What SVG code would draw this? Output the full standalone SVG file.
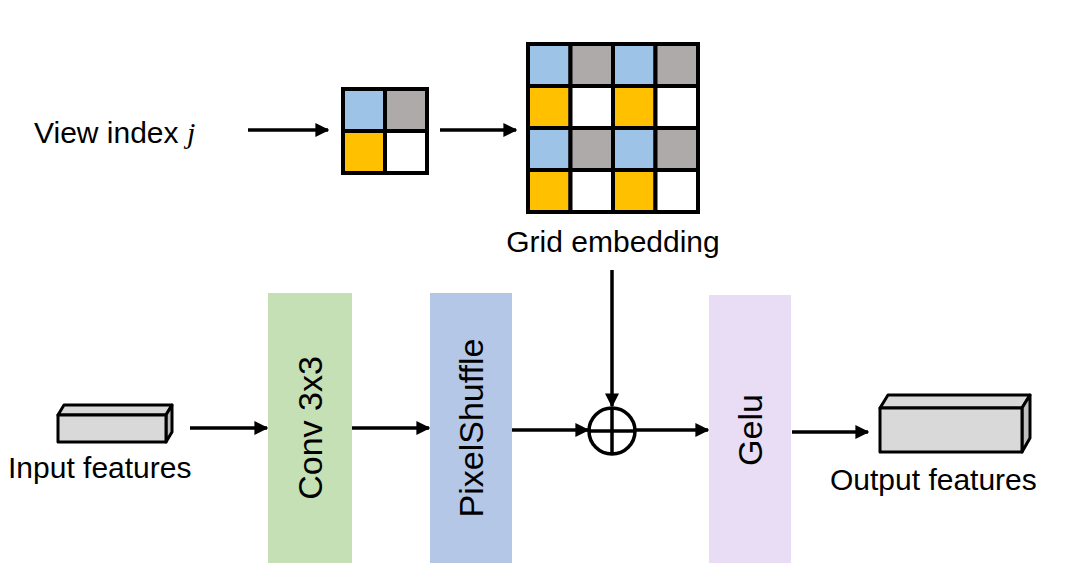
<svg xmlns="http://www.w3.org/2000/svg" width="1080" height="580" viewBox="0 0 1080 580">
<style>
text{font-family:"Liberation Sans",Arial,sans-serif;fill:#000}
.lbl{font-size:30px}
.vl{font-size:34px}
.ln{stroke:#000;stroke-width:3.5;fill:none}
.c{stroke:#000;stroke-width:4}
.b{fill:#9dc3e6}.g{fill:#aeaaaa}.y{fill:#ffc000}.w{fill:#fff}
.cube{stroke:#000;stroke-width:3;stroke-linejoin:round}
</style>
<defs>
<marker id="ah" viewBox="0 0 10 10" refX="9" refY="5" markerWidth="4" markerHeight="4" orient="auto" markerUnits="strokeWidth"><path d="M0,0 L10,5 L0,10 z" fill="#000"/></marker>
</defs>
<g id="view-index"><text class="lbl" x="34" y="143">View index <tspan font-family="Liberation Serif" font-style="italic">j</tspan></text></g>
<g id="small-grid">
<rect class="c b" x="343" y="89" width="42" height="42"/><rect class="c g" x="385" y="89" width="42" height="42"/>
<rect class="c y" x="343" y="131" width="42" height="42"/><rect class="c w" x="385" y="131" width="42" height="42"/>
</g>
<g id="grid-embedding">
<rect class="c b" x="528" y="44" width="42.5" height="42"/><rect class="c g" x="570.5" y="44" width="42.5" height="42"/><rect class="c b" x="613" y="44" width="42.5" height="42"/><rect class="c g" x="655.5" y="44" width="42.5" height="42"/>
<rect class="c y" x="528" y="86" width="42.5" height="42"/><rect class="c w" x="570.5" y="86" width="42.5" height="42"/><rect class="c y" x="613" y="86" width="42.5" height="42"/><rect class="c w" x="655.5" y="86" width="42.5" height="42"/>
<rect class="c b" x="528" y="128" width="42.5" height="42"/><rect class="c g" x="570.5" y="128" width="42.5" height="42"/><rect class="c b" x="613" y="128" width="42.5" height="42"/><rect class="c g" x="655.5" y="128" width="42.5" height="42"/>
<rect class="c y" x="528" y="170" width="42.5" height="42"/><rect class="c w" x="570.5" y="170" width="42.5" height="42"/><rect class="c y" x="613" y="170" width="42.5" height="42"/><rect class="c w" x="655.5" y="170" width="42.5" height="42"/>
<text class="lbl" x="613" y="252" text-anchor="middle">Grid embedding</text>
</g>
<g id="input-features">
<path class="cube" fill="#d9d9d9" d="M58,415 L64,405 L172,405 L166,415 Z"/>
<path class="cube" fill="#bfbfbf" d="M166,415 L172,405 L172,432 L166,442 Z"/>
<rect class="cube" fill="#d9d9d9" x="58" y="415" width="108" height="27"/>
<text class="lbl" x="8" y="478">Input features</text>
</g>
<g id="conv"><rect x="268" y="293" width="84" height="270" fill="#c5e0b4"/><text class="vl" transform="translate(322,428) rotate(-90)" text-anchor="middle">Conv 3x3</text></g>
<g id="pixelshuffle"><rect x="430" y="293" width="82" height="270" fill="#b4c7e7"/><text class="vl" transform="translate(483,428) rotate(-90)" text-anchor="middle">PixelShuffle</text></g>
<g id="add"><circle cx="612" cy="431" r="23" fill="#fff" stroke="#000" stroke-width="3.5"/><path class="ln" d="M589,431 H635 M612,408 V454"/></g>
<g id="gelu"><rect x="709" y="295" width="82" height="268" fill="#e8ddf4"/><text class="vl" transform="translate(762,430) rotate(-90)" text-anchor="middle">Gelu</text></g>
<g id="output-features">
<path class="cube" fill="#d9d9d9" d="M880,408 L888,395 L1030,395 L1022,408 Z"/>
<path class="cube" fill="#bfbfbf" d="M1022,408 L1030,395 L1030,438 L1022,452 Z"/>
<rect class="cube" fill="#d9d9d9" x="880" y="408" width="142" height="44"/>
<text class="lbl" x="830" y="490">Output features</text>
</g>
<g id="connectors" class="ln">
<line x1="248" y1="130" x2="328" y2="130" marker-end="url(#ah)"/>
<line x1="440" y1="130" x2="516" y2="130" marker-end="url(#ah)"/>
<line x1="612" y1="270" x2="612" y2="406" marker-end="url(#ah)"/>
<line x1="190" y1="428" x2="267" y2="428" marker-end="url(#ah)"/>
<line x1="352" y1="428" x2="429" y2="428" marker-end="url(#ah)"/>
<line x1="512" y1="430" x2="588" y2="430" marker-end="url(#ah)"/>
<line x1="635" y1="430" x2="708" y2="430" marker-end="url(#ah)"/>
<line x1="792" y1="432" x2="868" y2="432" marker-end="url(#ah)"/>
</g>
</svg>
